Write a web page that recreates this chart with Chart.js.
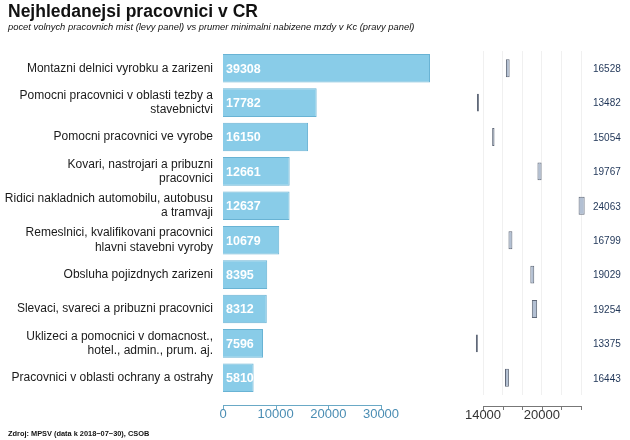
<!DOCTYPE html>
<html><head><meta charset="utf-8">
<script src="https://cdn.jsdelivr.net/npm/chart.js@4.4.0/dist/chart.umd.min.js"></script>
<style>
html,body{margin:0;padding:0;background:#fff;}
#wrap{position:relative;width:630px;height:440px;font-family:"Liberation Sans",Arial,sans-serif;}
canvas{position:absolute;left:0;top:0;}
#title{position:absolute;left:8px;top:1px;font-size:17.5px;font-weight:bold;color:#111;}
#sub{position:absolute;left:8px;top:21px;font-size:9.4px;font-style:italic;color:#111;}
#src{position:absolute;left:8px;top:429px;font-size:7.4px;font-weight:bold;color:#111;}
</style></head><body>
<div id="wrap">
<canvas id="c1" width="630" height="440"></canvas>
<canvas id="c2" width="630" height="440"></canvas>
<div id="title">Nejhledanejsi pracovnici v CR</div>
<div id="sub">pocet volnych pracovnich mist (levy panel) vs prumer minimalni nabizene mzdy v Kc (pravy panel)</div>
<div id="src">Zdroj: MPSV (data k 2018−07−30), CSOB</div>
</div>
<script>
const categories = [
  ["Montazni delnici vyrobku a zarizeni"],
  ["Pomocni pracovnici v oblasti tezby a", "stavebnictvi"],
  ["Pomocni pracovnici ve vyrobe"],
  ["Kovari, nastrojari a pribuzni", "pracovnici"],
  ["Ridici nakladnich automobilu, autobusu", "a tramvaji"],
  ["Remeslnici, kvalifikovani pracovnici", "hlavni stavebni vyroby"],
  ["Obsluha pojizdnych zarizeni"],
  ["Slevaci, svareci a pribuzni pracovnici"],
  ["Uklizeci a pomocnici v domacnost.,", "hotel., admin., prum. aj."],
  ["Pracovnici v oblasti ochrany a ostrahy"]
];
const vacancies = [39308, 17782, 16150, 12661, 12637, 10679, 8395, 8312, 7596, 5810];
const wages = [16528, 13482, 15054, 19767, 24063, 16799, 19029, 19254, 13375, 16443];
const wageSpread = [380, 200, 240, 420, 620, 400, 400, 540, 200, 400];
const leftTicks = [0, 10000, 20000, 30000];
const rightTicks = [14000, 16000, 18000, 20000, 22000, 24000];
const rightTickLabels = ["14000", "", "", "20000", "", ""];

const FONT = '"Liberation Sans", Arial, sans-serif';

const axisLinePlugin = {
  id: 'axisLine',
  afterDraw(chart, args, opts) {
    const s = chart.scales.x, ctx = chart.ctx;
    const y = opts.y;
    ctx.save();
    ctx.strokeStyle = opts.color; ctx.lineWidth = 1;
    ctx.beginPath();
    ctx.moveTo(s.getPixelForValue(opts.ticks[0]), y + 0.5);
    ctx.lineTo(s.getPixelForValue(opts.ticks[opts.ticks.length - 1]), y + 0.5);
    opts.ticks.forEach(t => {
      const x = Math.round(s.getPixelForValue(t)) + 0.5;
      ctx.moveTo(x, y); ctx.lineTo(x, y + 4);
    });
    ctx.stroke();
    ctx.restore();
  }
};

const barLabelPlugin = {
  id: 'barLabels',
  afterDatasetsDraw(chart, args, opts) {
    const ctx = chart.ctx;
    const meta = chart.getDatasetMeta(0);
    ctx.save();
    ctx.font = opts.font;
    ctx.fillStyle = opts.color;
    ctx.textBaseline = 'middle';
    ctx.textAlign = 'left';
    meta.data.forEach((el, i) => {
      const x = opts.fixedX != null ? opts.fixedX : el.base + 3;
      ctx.fillText(String(opts.values[i]), x, el.y + 1);
    });
    ctx.restore();
  }
};

new Chart(document.getElementById('c1'), {
  type: 'bar',
  data: {
    labels: categories,
    datasets: [{
      data: vacancies,
      backgroundColor: '#89cce8',
      borderColor: '#69b3d4',
      borderWidth: 1,
      barPercentage: 0.83,
      categoryPercentage: 1,
      clip: false
    }]
  },
  options: {
    indexAxis: 'y',
    responsive: false,
    animation: false,
    layout: { padding: { left: 0, right: 249, top: 51, bottom: 0 } },
    plugins: {
      legend: { display: false }, tooltip: { enabled: false },
      axisLine: { y: 405, color: '#6aa9c6', ticks: leftTicks },
      barLabels: { font: 'bold 12.5px ' + FONT, color: '#ffffff', values: vacancies }
    },
    scales: {
      x: {
        min: 0, max: 30000,
        afterBuildTicks: s => { s.ticks = leftTicks.map(v => ({ value: v })); },
        afterFit: s => { s.height = 45; },
        grid: { display: false, drawTicks: false },
        border: { display: false },
        ticks: { color: '#4a8db3', font: { family: FONT, size: 13 }, padding: 12, maxRotation: 0,
          callback: v => String(v) }
      },
      y: {
        afterFit: s => { s.width = 223; },
        grid: { display: false, drawTicks: false },
        border: { display: false },
        ticks: { color: '#1a1a1a', font: { family: FONT, size: 12, lineHeight: 1.2 }, padding: 10, autoSkip: false }
      }
    }
  },
  plugins: [axisLinePlugin, barLabelPlugin]
});

new Chart(document.getElementById('c2'), {
  type: 'bar',
  data: {
    labels: categories,
    datasets: [{
      data: wages.map((w, i) => [w - wageSpread[i] / 2, w + wageSpread[i] / 2]),
      backgroundColor: '#b3c0d3',
      borderColor: '#5f6878',
      borderWidth: 1,
      borderSkipped: false,
      barPercentage: 0.52,
      categoryPercentage: 1,
      clip: false
    }]
  },
  options: {
    indexAxis: 'y',
    responsive: false,
    animation: false,
    layout: { padding: { left: 483, right: 49, top: 51, bottom: 0 } },
    plugins: {
      legend: { display: false }, tooltip: { enabled: false },
      axisLine: { y: 406, color: '#777777', ticks: rightTicks },
      barLabels: { font: '10px ' + FONT, color: '#1f3557', values: wages, fixedX: 593 }
    },
    scales: {
      x: {
        min: 14000, max: 24000,
        afterBuildTicks: s => { s.ticks = rightTicks.map(v => ({ value: v })); },
        afterFit: s => { s.height = 45; },
        grid: { display: true, drawTicks: false, color: '#f0f0f0', lineWidth: 1 },
        border: { display: false },
        ticks: {
          color: '#333333', font: { family: FONT, size: 13 }, padding: 13, maxRotation: 0, autoSkip: false,
          callback: (v, i) => rightTickLabels[i]
        }
      },
      y: { display: false }
    }
  },
  plugins: [axisLinePlugin, barLabelPlugin]
});
</script>
</body></html>
